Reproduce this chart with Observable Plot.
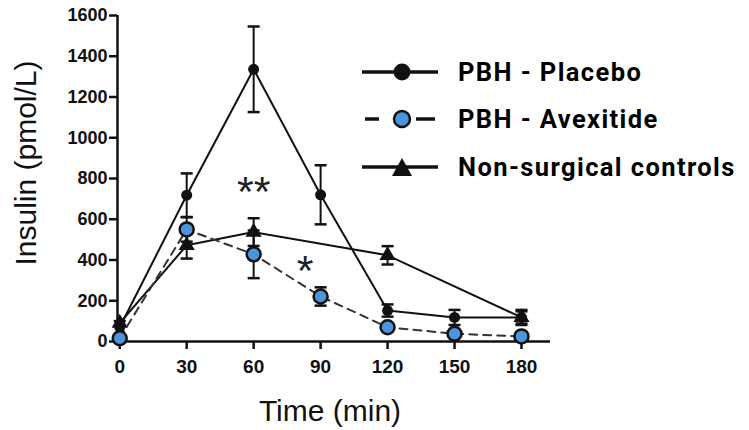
<!DOCTYPE html>
<html><head><meta charset="utf-8">
<script src="https://cdn.jsdelivr.net/npm/d3@7"></script>
<script src="https://cdn.jsdelivr.net/npm/@observablehq/plot@0.6"></script>
<style>
body{margin:0;background:#fff;}
#wrap{position:relative;width:749px;height:430px;overflow:hidden;}
#legend{position:absolute;left:362px;top:48px;font-family:Roboto,sans-serif;font-weight:700;font-size:25.5px;letter-spacing:1.4px;color:#000;}
.row{display:flex;align-items:center;height:47.5px;white-space:nowrap;}
.row svg{width:78px;height:26px;margin-right:18px;flex:none;}
#ytitle{position:absolute;left:26px;top:163px;transform:translate(-50%,-50%) rotate(-90deg);white-space:nowrap;font-family:'Liberation Sans',Arial,sans-serif;font-size:30px;color:#111;}
</style></head><body>
<div id="wrap"></div>
<script>
// ---- data ----
const times = [0, 30, 60, 90, 120, 150, 180];
const placeboMean = [70, 718, 1336, 720, 152, 118, 118];
const placeboErr  = [0, 107, 210, 145, 30, 37, 37];
const avexMean = [16, 550, 428, 221, 70, 38, 25];
const avexErr  = [0, 60, 117, 45, 10, 8, 5];
const controlTimes = [0, 30, 60, 120, 180];
const controlMean = [90, 472, 537, 423, 118];
const controlErr  = [10, 65, 68, 45, 30];
const yTicks = [0, 200, 400, 600, 800, 1000, 1200, 1400, 1600];
const xTicks = [0, 30, 60, 90, 120, 150, 180];
const sigT = [60, 83];
const sigY = [815, 425];
const sigLabel = ["**", "*"];
const seriesNames = ["PBH - Placebo", "PBH - Avexitide", "Non-surgical controls"];
const xTitle = "Time (min)";
const yTitle = "Insulin (pmol/L)";
const blue = "#4b95dc";
const ink = "#111";

const placebo = times.map((t, i) => ({t, y: placeboMean[i], e: placeboErr[i]}));
const avex = times.map((t, i) => ({t, y: avexMean[i], e: avexErr[i]}));
const controls = controlTimes.map((t, i) => ({t, y: controlMean[i], e: controlErr[i]}));
const sig = sigT.map((t, i) => ({t, y: sigY[i], label: sigLabel[i]}));

const cap = {draw(ctx) { ctx.moveTo(-6, 0); ctx.lineTo(6, 0); }};

function errMarks(data) {
  const d = data.filter(p => p.e > 0);
  return [
    Plot.ruleX(d, {x: "t", y1: p => p.y - p.e, y2: p => p.y + p.e, stroke: ink, strokeWidth: 2}),
    Plot.dot(d, {x: "t", y: p => p.y - p.e, symbol: cap, r: 6, stroke: ink, strokeWidth: 2.5, fill: "none"}),
    Plot.dot(d, {x: "t", y: p => p.y + p.e, symbol: cap, r: 6, stroke: ink, strokeWidth: 2.5, fill: "none"})
  ];
}

const chart = Plot.plot({
  width: 749, height: 430,
  marginLeft: 117, marginRight: 199, marginTop: 15, marginBottom: 89,
  style: {fontFamily: "'Liberation Sans', Arial, sans-serif", background: "#fff", color: ink, overflow: "visible"},
  x: {domain: [-1, 193]},
  y: {domain: [0, 1600]},
  marks: [
    Plot.axisY({ticks: yTicks, tickSize: 8, tickPadding: 2, strokeWidth: 2.5, fontSize: 18, fontWeight: "bold", label: null, tickFormat: d => String(d)}),
    Plot.axisX({ticks: xTicks, tickSize: 8, tickPadding: 10, strokeWidth: 2.5, fontSize: 19, fontWeight: "bold", label: null, tickFormat: d => String(d)}),
    Plot.ruleX([-1], {y1: 0, y2: 1600, stroke: ink, strokeWidth: 2.5}),
    Plot.ruleY([0], {x1: -1, x2: 193, stroke: ink, strokeWidth: 2.5}),
    Plot.line(controls, {x: "t", y: "y", stroke: ink, strokeWidth: 2}),
    Plot.line(placebo, {x: "t", y: "y", stroke: ink, strokeWidth: 2}),
    Plot.line(avex, {x: "t", y: "y", stroke: "#333", strokeWidth: 2, strokeDasharray: "8,6"}),
    ...errMarks(controls),
    ...errMarks(placebo),
    ...errMarks(avex),
    Plot.dot(controls, {x: "t", y: "y", symbol: "triangle", r: 6, fill: ink}),
    Plot.dot(placebo, {x: "t", y: "y", r: 5.5, fill: ink}),
    Plot.dot(avex, {x: "t", y: "y", r: 7, fill: blue, stroke: ink, strokeWidth: 2.5}),
    Plot.text(sig, {x: "t", y: "y", text: "label", fontSize: 43, fill: "#222", lineAnchor: "top"}),
    Plot.text([xTitle], {frameAnchor: "bottom", dy: 79, dx: -4, fontSize: 30, fill: ink})
  ]
});
const wrap = document.getElementById("wrap");
wrap.appendChild(chart);

const yt = document.createElement("div");
yt.id = "ytitle";
yt.textContent = yTitle;
wrap.appendChild(yt);

// legend
const leg = document.createElement("div");
leg.id = "legend";
const swatches = [
  `<line x1="0" y1="13" x2="76" y2="13" stroke="${ink}" stroke-width="3.5"/><circle cx="40" cy="13" r="8.5" fill="${ink}"/>`,
  `<line x1="3" y1="13" x2="17" y2="13" stroke="${ink}" stroke-width="3.5"/><line x1="54" y1="13" x2="73" y2="13" stroke="${ink}" stroke-width="3.5"/><circle cx="40" cy="13" r="8" fill="${blue}" stroke="${ink}" stroke-width="2.5"/>`,
  `<line x1="0" y1="13" x2="76" y2="13" stroke="${ink}" stroke-width="3.5"/><path d="M40,4 L50,22 L30,22 Z" fill="${ink}"/>`
];
seriesNames.forEach((name, i) => {
  const row = document.createElement("div");
  row.className = "row";
  row.innerHTML = `<svg viewBox="0 0 78 26">${swatches[i]}</svg><span>${name}</span>`;
  leg.appendChild(row);
});
wrap.appendChild(leg);
</script>
</body></html>
